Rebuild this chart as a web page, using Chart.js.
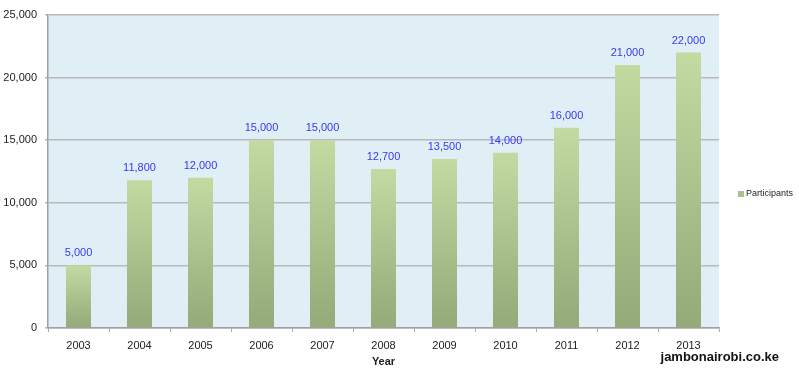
<!DOCTYPE html>
<html>
<head>
<meta charset="utf-8">
<script src="https://cdn.jsdelivr.net/npm/chart.js@4.4.0/dist/chart.umd.min.js"></script>
<style>
  html, body { margin: 0; padding: 0; background: #fff; }
  #wrap { width: 799px; height: 379px; }
</style>
</head>
<body>
<div id="wrap"><canvas id="chart" width="799" height="379"></canvas></div>
<script>
// chart data
const years = ['2003', '2004', '2005', '2006', '2007', '2008', '2009', '2010', '2011', '2012', '2013'];
const participants = [5000, 11800, 12000, 15000, 15000, 12700, 13500, 14000, 16000, 21000, 22000];
const yTicks = [0, 5000, 10000, 15000, 20000, 25000];

const FONT = '"Liberation Sans", Arial, sans-serif';

function fmt(v) {
    return v.toLocaleString('en-US');
}

// light blue plot background
const plotBg = {
    id: 'plotBg',
    beforeDraw(chart) {
        const a = chart.chartArea;
        const ctx = chart.ctx;
        ctx.save();
        ctx.fillStyle = '#e0eff5';
        ctx.fillRect(a.left, a.top, a.right - a.left, a.bottom - a.top);
        ctx.restore();
    }
};

// value labels, legend and site name
const extras = {
    id: 'extras',
    afterDatasetsDraw(chart) {
        const ctx = chart.ctx;
        const meta = chart.getDatasetMeta(0);
        ctx.save();
        ctx.font = '11px ' + FONT;
        ctx.fillStyle = '#3838f2';
        ctx.textAlign = 'center';
        ctx.textBaseline = 'middle';
        meta.data.forEach((bar, i) => {
            ctx.fillText(fmt(participants[i]), bar.x, bar.y - 12);
        });

        // legend
        ctx.fillStyle = '#a9c28c';
        ctx.fillRect(738, 191, 6, 6);
        ctx.font = '9px ' + FONT;
        ctx.fillStyle = '#222';
        ctx.textAlign = 'left';
        ctx.fillText(chart.data.datasets[0].label, 746, 194);

        // watermark
        ctx.font = 'bold 13px ' + FONT;
        ctx.fillStyle = '#111';
        ctx.textAlign = 'right';
        ctx.fillText('jambonairobi.co.ke', 779, 357);
        ctx.restore();
    }
};

function barGradient(context) {
    const chart = context.chart;
    const a = chart.chartArea;
    if (!a) return '#acc38e';
    const top = chart.scales.y.getPixelForValue(participants[context.dataIndex]);
    const g = chart.ctx.createLinearGradient(0, top, 0, a.bottom);
    g.addColorStop(0, '#c3daa2');
    g.addColorStop(1, '#93aa79');
    return g;
}

new Chart(document.getElementById('chart'), {
    type: 'bar',
    data: {
        labels: years,
        datasets: [{
            label: 'Participants',
            data: participants,
            backgroundColor: barGradient,
            borderWidth: 0,
            barPercentage: 0.41,
            categoryPercentage: 1
        }]
    },
    options: {
        responsive: false,
        animation: false,
        layout: { padding: { top: 15, right: 80, bottom: 10, left: 0 } },
        plugins: {
            legend: { display: false },
            tooltip: { enabled: false }
        },
        scales: {
            x: {
                grid: {
                    display: true,
                    offset: true,
                    drawOnChartArea: false,
                    color: '#aaa',
                    tickLength: 4
                },
                border: { color: '#a0a0a0', width: 1.5 },
                ticks: { color: '#222', font: { family: FONT, size: 11 }, padding: 7 },
                title: {
                    display: true,
                    text: 'Year',
                    color: '#222',
                    font: { family: FONT, size: 11, weight: 'bold' },
                    padding: { top: 2, bottom: 0 }
                },
                afterFit(scale) { scale.height = 41; }
            },
            y: {
                min: 0,
                max: 25000,
                afterBuildTicks(scale) { scale.ticks = yTicks.map(v => ({ value: v })); },
                grid: { color: '#b9b9b9', lineWidth: 1.5, tickLength: 3 },
                border: { color: '#a0a0a0', width: 1.5 },
                ticks: {
                    color: '#222',
                    font: { family: FONT, size: 11 },
                    padding: 8,
                    callback: v => fmt(v)
                },
                afterFit(scale) { scale.width = 48; }
            }
        }
    },
    plugins: [plotBg, extras]
});
</script>
</body>
</html>
